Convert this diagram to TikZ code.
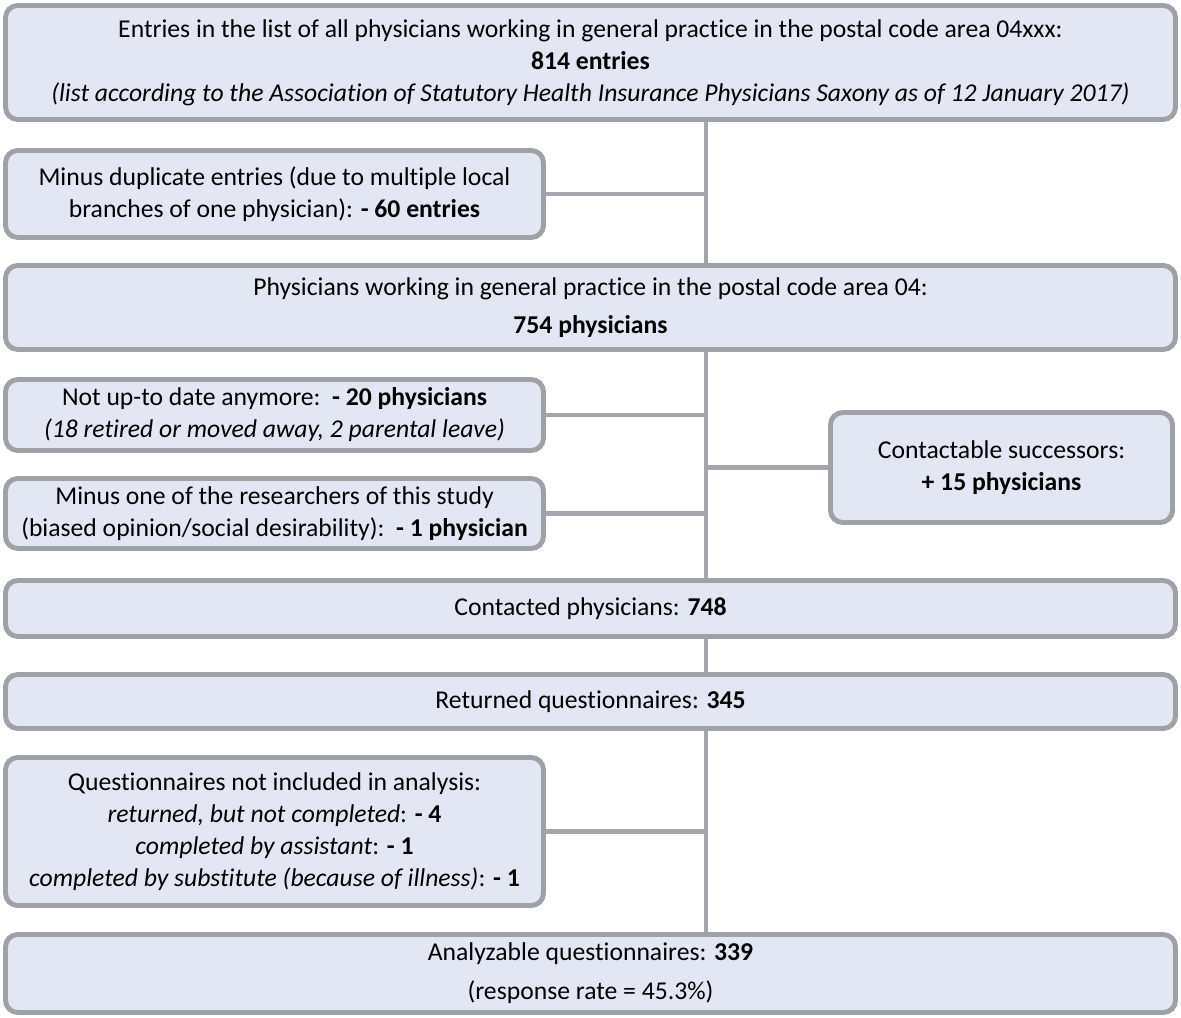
\documentclass[tikz,border=0pt]{standalone}
\usepackage{fontspec}
\setmainfont{Carlito}[Ligatures=NoCommon]
\usepackage{tikz}
\usetikzlibrary{calc}
\definecolor{boxfill}{RGB}{226,231,243}
\definecolor{boxline}{RGB}{158,161,165}
\definecolor{linkgray}{RGB}{163,166,170}
\tikzset{
	box/.style={draw=boxline, fill=boxfill, line width=2.8pt, rounded corners=7pt,
		align=center, inner sep=0pt, font=\fontsize{14.6}{18.2}\selectfont},
	widebox/.style={box, minimum width=23.4cm},
	sidebox/.style={box, minimum width=10.76cm},
	link/.style={draw=linkgray, line width=2.8pt}
}

\begin{document}
\begin{tikzpicture}
		%%%%% START %%%%%
		\useasboundingbox (0, 0) rectangle (23.62, -20.36);
		\coordinate (spine) at (14.12, 0);
		
		\node[widebox, minimum height=2.28cm] (entries) at (11.81, -1.25)
			{Entries in the list of all physicians working in general practice in the postal code area 04xxx:\\
			\textbf{814 entries}\\
			\textit{(list according to the Association of Statutory Health Insurance Physicians Saxony as of 12 January 2017)}};
		
		\node[sidebox, minimum height=1.74cm] (dupl) at (5.49, -3.88)
			{Minus duplicate entries (due to multiple local\\
			branches of one physician): \textbf{- 60 entries}};
		
		\node[widebox, minimum height=1.68cm] (pool) at (11.81, -6.15)
			{Physicians working in general practice in the postal code area 04:\\[3pt]
			\textbf{754 physicians}};
		
		\node[sidebox, minimum height=1.42cm] (outdated) at (5.49, -8.30)
			{Not up-to date anymore:\ \ \textbf{- 20 physicians}\\
			\textit{(18 retired or moved away, 2 parental leave)}};
		\node[sidebox, minimum height=1.40cm] (author) at (5.49, -10.27)
			{Minus one of the researchers of this study\\
			(biased opinion/social desirability):\ \ \textbf{- 1 physician}};
		\node[box, minimum width=6.84cm, minimum height=2.2cm] (succ) at (20.03, -9.35)
			{Contactable successors:\\
			\textbf{+ 15 physicians}};
		
		\node[widebox, minimum height=1.12cm] (contacted) at (11.81, -12.17)
			{Contacted physicians: \textbf{748}};
		\node[widebox, minimum height=1.08cm] (returned) at (11.81, -14.03)
			{Returned questionnaires: \textbf{345}};
		
		\node[sidebox, minimum height=2.96cm] (excl) at (5.49, -16.63)
			{Questionnaires not included in analysis:\\
			\textit{returned, but not completed}: \textbf{- 4}\\
			\textit{completed by assistant}: \textbf{- 1}\\
			\textit{completed by substitute (because of illness)}: \textbf{- 1}};
		
		\node[widebox, minimum height=1.56cm] (final) at (11.81, -19.47)
			{Analyzable questionnaires: \textbf{339}\\[4pt]
			(response rate = 45.3\%)};
		
		% main line
		\foreach \a/\b in {entries/pool, pool/contacted, contacted/returned, returned/final}
			\draw[link] (spine |- \a.south) -- (spine |- \b.north);
		
		% side branches
		\foreach \s in {dupl, outdated, author, excl}
			\draw[link] (\s.east) -- (spine |- \s.east);
		\draw[link] (succ.west) -- (spine |- succ.west);
		
		%%%%% END %%%%%
\end{tikzpicture}
\end{document}
